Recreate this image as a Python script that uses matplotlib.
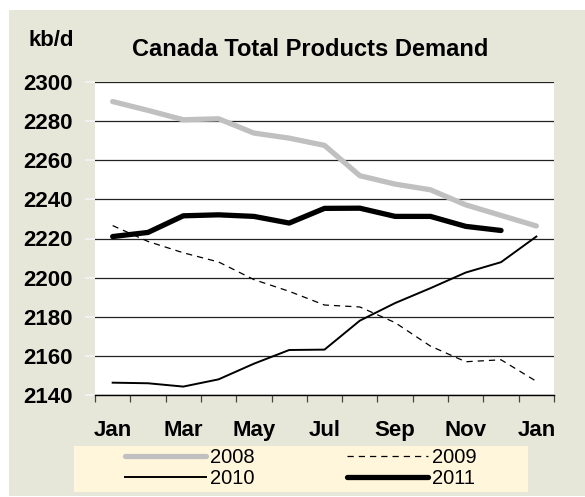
import matplotlib.pyplot as plt
from matplotlib.patches import Rectangle

plt.rcParams['font.family'] = ['Liberation Sans', 'DejaVu Sans']

months = ['Jan', 'Feb', 'Mar', 'Apr', 'May', 'Jun', 'Jul', 'Aug', 'Sep', 'Oct', 'Nov', 'Dec', 'Jan']
d2008 = [2290, 2285.5, 2280.7, 2281.2, 2273.9, 2271.3, 2267.6, 2252.1, 2247.8, 2244.9, 2237.2, 2231.8, 2226.4]
d2009 = [2226.6, 2218.5, 2212.7, 2208, 2199, 2193, 2186, 2185, 2177, 2165, 2157, 2158, 2147]
d2010 = [2146.3, 2146, 2144.3, 2148, 2156, 2163, 2163.2, 2178, 2187, 2194.6, 2202.6, 2207.9, 2221]
d2011 = [2221, 2223.1, 2231.6, 2232.1, 2231.3, 2227.9, 2235.4, 2235.5, 2231.3, 2231.3, 2226.2, 2224.1]

W, H = 585, 497
fig = plt.figure(figsize=(W / 100, H / 100), dpi=100)
fig.patch.set_facecolor('white')

# beige chart background and legend box
fig.patches.append(Rectangle((9 / W, 1 / H), 576 / W, 486 / H, transform=fig.transFigure,
                             facecolor='#E7E7D9', edgecolor='none', zorder=-10))
fig.patches.append(Rectangle((74 / W, 1 - 492 / H), 454 / W, 46 / H, transform=fig.transFigure,
                             facecolor='#FFF6DC', edgecolor='none', zorder=-5))

ax = fig.add_axes([95 / W, 1 - 395 / H, 459 / W, 313 / H])
ax.set_facecolor('white')

x = list(range(len(months)))
l08, = ax.plot(x, d2008, color='#C0C0C0', lw=3.8, solid_capstyle='round', label='2008', zorder=3)
l09, = ax.plot(x, d2009, color='black', lw=0.9, ls=(0, (5, 4)), label='2009', zorder=3)
l10, = ax.plot(x, d2010, color='black', lw=1.4, label='2010', zorder=3)
l11, = ax.plot(x[:len(d2011)], d2011, color='black', lw=3.8, solid_capstyle='round', label='2011', zorder=4)

ax.set_ylim(2140, 2300)
ax.set_yticks(range(2140, 2301, 20))
ax.yaxis.grid(True, color='#222222', lw=0.9)
ax.set_axisbelow(True)
ax.set_xlim(-0.5, 12.5)
ax.set_xticks(x[::2])
ax.set_xticklabels(months[::2])
ax.set_xticks([i - 0.5 for i in range(14)], minor=True)
ax.tick_params(axis='x', which='major', length=0, pad=18, labelsize=16)
ax.tick_params(axis='x', which='minor', length=5, width=0.9, color='#444444', direction='out')
ax.tick_params(axis='y', length=7, color='#F4F4F4', width=1.2, pad=9, labelsize=16)
for lab in ax.get_xticklabels() + ax.get_yticklabels():
    lab.set_fontweight('bold')

for s in ['top', 'right', 'left']:
    ax.spines[s].set_visible(False)
ax.spines['bottom'].set_color('black')
ax.spines['bottom'].set_linewidth(1)

fig.text(310 / W, 1 - 50 / H, 'Canada Total Products Demand', ha='center', va='center',
         fontsize=17, fontweight='bold')
fig.text(28 / W, 1 - 40 / H, 'kb/d', ha='left', va='center', fontsize=16, fontweight='bold')

leg = fig.legend([l08, l10, l09, l11], ['2008', '2010', '2009', '2011'], ncol=2,
                 loc='center', bbox_to_anchor=(301 / W, 1 - 468 / H), frameon=False,
                 fontsize=14.5, handlelength=4.0, handletextpad=0.2, columnspacing=4.6,
                 labelspacing=0.1, borderpad=0)

fig.savefig('out.png', dpi=100)
